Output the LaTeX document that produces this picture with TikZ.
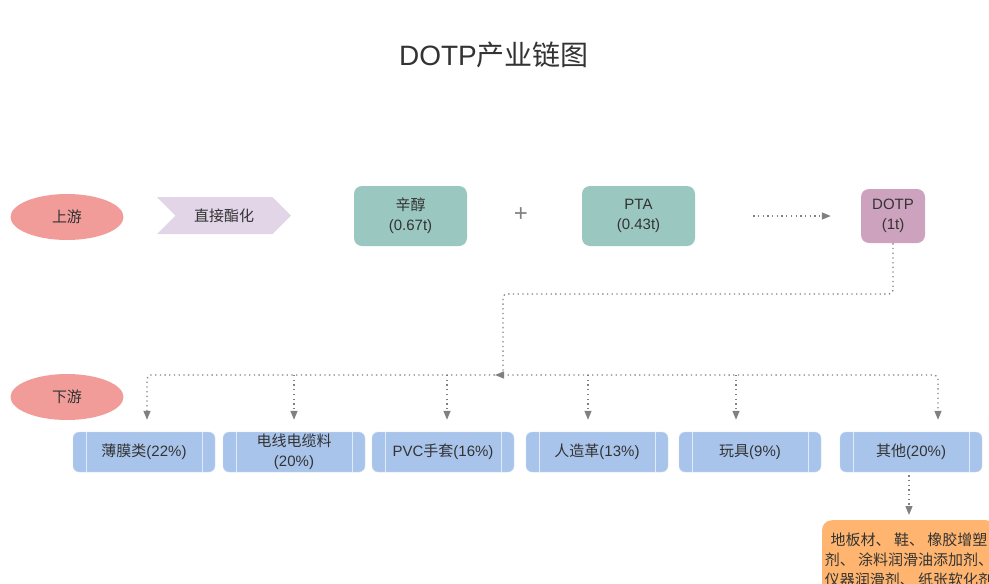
\documentclass[tikz,border=0pt]{standalone}
\usepackage{fontspec}
\setmainfont{Liberation Sans}
\newfontfamily\cjk{Noto Sans CJK SC}
\usetikzlibrary{arrows.meta,shapes.geometric,shapes.symbols,positioning}

\definecolor{streamred}{HTML}{F19C99}
\definecolor{esterlilac}{HTML}{E1D5E7}
\definecolor{rawgreen}{HTML}{9AC7BF}
\definecolor{dotppink}{HTML}{CDA2BE}
\definecolor{useblue}{HTML}{A9C4EB}
\definecolor{miscorange}{HTML}{FFB570}
\definecolor{flowgray}{HTML}{808080}
\definecolor{inkgray}{HTML}{333333}

\begin{document}
\begin{tikzpicture}[x=1pt,y=-1pt,>={Triangle[length=9pt,width=7pt]},
                    font=\fontsize{15}{20}\selectfont,text=inkgray]
  \tikzstyle{stream}=[ellipse,fill=streamred,minimum width=113pt,minimum height=46pt,inner sep=0pt]
  \tikzstyle{raw}=[rectangle,rounded corners=8pt,fill=rawgreen,minimum width=113pt,minimum height=60pt,align=center]
  \tikzstyle{use}=[rectangle,rounded corners=6pt,fill=useblue,draw=useblue!60!white,
                   minimum width=142pt,minimum height=40pt,align=center,inner sep=1pt,
                   path picture={\draw[line width=1pt,useblue!35!white]
                     ([xshift=13pt]path picture bounding box.north west) -- ([xshift=13pt]path picture bounding box.south west)
                     ([xshift=-13pt]path picture bounding box.north east) -- ([xshift=-13pt]path picture bounding box.south east);}]
  \tikzstyle{flow}=[draw=flowgray,line width=1.3pt,dash pattern=on 1.3pt off 3.4pt,->]

  \useasboundingbox (0,0) rectangle (989,584);
  \clip (0,0) rectangle (989,584);

  \node (title) at (494,55) {\fontsize{28}{32}\selectfont DOTP{\cjk 产业链图}};

  % upstream row
  \node[stream] (up) at (67,217) {\cjk 上游};

  \node[signal,signal to=east,signal from=west,fill=esterlilac,
        minimum width=134pt,minimum height=37pt] (ester) at (224,215.5) {\cjk 直接酯化};

  \node[raw] (octanol) at (410.5,216) {{\cjk 辛醇}\\(0.67t)};

  \node[text=flowgray] (plus) at (521,215) {\fontsize{24}{24}\selectfont +};

  \node[raw] (pta) at (638.5,216) {PTA\\(0.43t)};

  \node[rectangle,rounded corners=8pt,fill=dotppink,minimum width=64pt,minimum height=54pt,
        align=center] (dotp) at (893,216) {DOTP\\(1t)};

  % downstream row
  \node[stream] (down) at (67,397) {\cjk 下游};

  \node[use] (film)    at (144,452) {{\cjk 薄膜类}(22\%)};
  \node[use] (cable)   at (294,452) {{\cjk 电线电缆料}\\(20\%)};
  \node[use] (glove)   at (443,452) {PVC{\cjk 手套}(16\%)};
  \node[use] (leather) at (597,452) {{\cjk 人造革}(13\%)};
  \node[use] (toy)     at (750,452) {{\cjk 玩具}(9\%)};
  \node[use] (other)   at (911,452) {{\cjk 其他}(20\%)};

  \node[rectangle,rounded corners=10pt,fill=miscorange,anchor=north,minimum width=174pt,
        minimum height=80pt,align=center,inner xsep=2pt,inner ysep=7pt,font=\cjk\fontsize{15}{20}\selectfont] (misc) at (909,520)
        {地板材、 鞋、 橡胶增塑\\剂、 涂料润滑油添加剂、\\仪器润滑剂、 纸张软化剂};

  \coordinate (elbow) at (503,294);
  \coordinate (split) at (503,375);

  \path (pta) edge[flow,shorten <=58pt,shorten >=30pt] (dotp);

  \draw[flow,rounded corners=4pt] (dotp.south) |- (elbow) -- (split) -- ++(-8,0);

  \draw[flow,<->,rounded corners=4pt,shorten <=12pt,shorten >=12pt]
    ([xshift=3pt]film.north) |- (split) -| ([xshift=27pt]other.north);

  \foreach \n/\dx in {cable/0,glove/4,leather/-9,toy/-14}
    \draw[flow,shorten >=12pt] ([xshift=\dx pt]\n.north |- split) -- ([xshift=\dx pt]\n.north);

  \draw[flow,shorten <=3pt,shorten >=5pt] ([xshift=-2pt]other.south) -- (misc);

\end{tikzpicture}
\end{document}
